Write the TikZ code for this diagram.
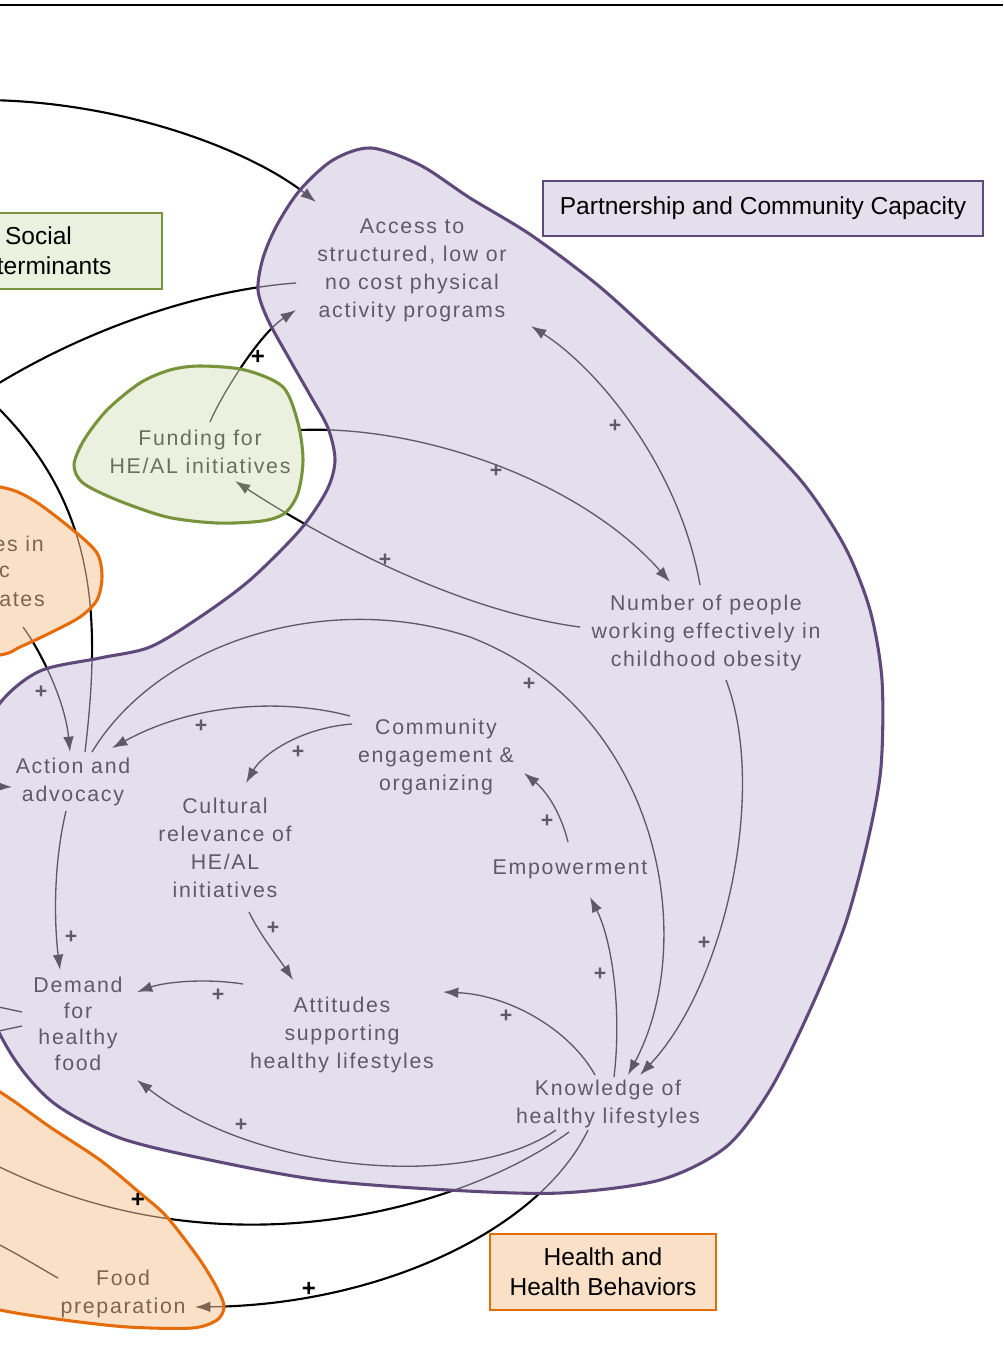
\documentclass[tikz,border=0pt]{standalone}
\usepackage{fontspec}
\setmainfont{Liberation Sans}
\newfontfamily\lblfam[LetterSpace=8]{Liberation Sans}
\usetikzlibrary{arrows.meta}
\definecolor{lavfill}{HTML}{E4DFEC}
\definecolor{lavline}{HTML}{5F497A}
\definecolor{lavink}{HTML}{5F5A68}
\definecolor{grnfill}{HTML}{EBF1DE}
\definecolor{grnline}{HTML}{77933C}
\definecolor{grnink}{HTML}{6A6E60}
\definecolor{orgfill}{HTML}{FBE0C8}
\definecolor{orgline}{HTML}{E46C0A}
\definecolor{orgink}{HTML}{7E6450}
\pgfdeclarelayer{lyBG}
\pgfdeclarelayer{lyA}
\pgfdeclarelayer{lyB}
\pgfdeclarelayer{lyC}
\pgfdeclarelayer{lyD}
\pgfsetlayers{lyBG,lyA,lyB,lyC,lyD,main}
\tikzset{
  lbl/.style={font=\lblfam\fontsize{16}{21}\selectfont, align=center, inner sep=0pt},
  plusg/.style={text=lavink, font=\bfseries\fontsize{16}{16}\selectfont, inner sep=0pt},
  plusb/.style={text=black, font=\bfseries\fontsize{18}{18}\selectfont, inner sep=0pt},
  arrw/.style={-{Latex[length=11.5pt,width=8pt]}},
  bbox/.style={line width=2.2pt, align=center, inner sep=0pt, text=black,
    font=\fontsize{18.4}{22.5}\selectfont},
  lavblob/.style={insert path={plot[smooth cycle, tension=0.5] coordinates {
    (371,148) (420,165) (470,198) (531,235) (600,287) (669,350) (740,417)
    (803,483) (845,547) (870,610) (882,680) (881,767) (868,840) (845,925)
    (810,1010) (770,1090) (726,1147) (660,1180) (560,1193) (448,1190)
    (320,1180) (210,1160) (120,1138) (55,1104) (15,1060) (-15,1000)
    (-40,900) (-30,760) (0,703) (40,671) (100,658) (150,647) (200,617)
    (250,580) (300,530) (327,490) (335,460) (328,428) (310,395) (290,360)
    (268,320) (258,290) (263,258) (277,225) (300,190) (333,160)}}},
  grnblob/.style={insert path={plot[smooth cycle, tension=0.5] coordinates {
    (200,366) (245,370) (283,387) (298,423) (303,460) (298,493) (285,513)
    (262,521) (217,523) (167,517) (117,500) (83,483) (74,465) (84,440)
    (107,410) (140,383) (170,370)}}},
  orgblobA/.style={insert path={plot[smooth cycle, tension=0.5] coordinates {
    (-80,480) (0,487) (33,500) (73,530) (97,553) (102,577) (97,600)
    (80,617) (50,633) (20,647) (0,655) (-80,665) (-150,570)}}},
  orgblobB/.style={insert path={plot[smooth cycle, tension=0.5] coordinates {
    (-60,1060) (0,1092) (50,1127) (100,1160) (140,1193) (167,1217) (200,1260)
    (218,1290) (224,1307) (217,1320) (192,1328) (128,1327) (64,1320)
    (0,1310) (-80,1290) (-150,1180)}}},
}
\newcommand\alledges{%
  \draw[conn,arrw] (w1) .. controls (120,100) and (250,150) .. ([shift={(-96,-68)}]acc.center);
  \draw[conn] ([shift={(-116,13)}]acc.center) .. controls (200,290) and (80,330) .. (w2);
  \draw[conn,arrw] ([shift={(10,-30)}]fund.center) .. controls (220,398) and (258,335) .. ([shift={(-116,40)}]acc.center);
  \draw[conn,arrw] ([shift={(100,-22)}]fund.center) .. controls (420,425) and (580,480) .. ([shift={(-36,-51)}]num.center);
  \draw[conn,arrw] ([shift={(-126,-6)}]num.center) .. controls (450,610) and (310,530) .. ([shift={(35,29)}]fund.center);
  \draw[conn,arrw] ([shift={(-6,-48)}]num.center) .. controls (680,470) and (600,370) .. ([shift={(119,56)}]acc.center);
  \draw[conn,arrw] ([shift={(20,47)}]num.center) .. controls (768,790) and (725,985) .. ([shift={(32,-29)}]kno.center);
  \draw[conn,arrw] ([shift={(19,-30)}]act.center) .. controls (160,640) and (330,590) .. (470,637) .. controls (660,710) and (700,940) .. ([shift={(20,-29)}]kno.center);
  \draw[conn,arrw] ([shift={(-86,-41)}]com.center) .. controls (290,700) and (200,700) .. ([shift={(39,-34)}]act.center);
  \draw[conn,arrw] ([shift={(-84,-33)}]com.center) .. controls (300,728) and (262,755) .. ([shift={(21,-65)}]cul.center);
  \draw[conn,arrw] ([shift={(-2,-27)}]emp.center) .. controls (560,810) and (545,790) .. ([shift={(88,16)}]com.center);
  \draw[conn,arrw] ([shift={(6,-27)}]kno.center) .. controls (622,1010) and (612,940) .. ([shift={(20,28)}]emp.center);
  \draw[conn,arrw] ([shift={(-13,-29)}]kno.center) .. controls (570,1030) and (510,995) .. ([shift={(101,-43)}]att.center);
  \draw[conn,arrw] ([shift={(24,64)}]cul.center) .. controls (260,935) and (280,960) .. ([shift={(-49,-55)}]att.center);
  \draw[conn,arrw] ([shift={(-99,-51)}]att.center) .. controls (205,978) and (165,982) .. ([shift={(59,-32)}]dem.center);
  \draw[conn,arrw] ([shift={(-7,29)}]act.center) .. controls (52,870) and (55,930) .. ([shift={(-18,-54)}]dem.center);
  \draw[conn,arrw] ([shift={(-52,26)}]kno.center) .. controls (470,1190) and (260,1175) .. ([shift={(59,56)}]dem.center);
  \draw[conn] ([shift={(-39,28)}]kno.center) .. controls (470,1205) and (220,1285) .. (w3);
  \draw[conn,arrw] ([shift={(-20,26)}]kno.center) .. controls (540,1230) and (380,1305) .. ([shift={(72,13)}]food.center);
  \draw[conn,arrw] ([shift={(-22,27)}]or3.east) .. controls (40,650) and (65,700) .. ([shift={(-3,-30)}]act.center);
  \draw[conn,arrw] (w4) -- ([shift={(-61,5)}]act.center);
  \draw[conn] ([shift={(12,-30)}]act.center) .. controls (102,610) and (95,500) .. (w5);
  \draw[conn] ([shift={(-56,-12)}]dem.center) -- (w6);
  \draw[conn] ([shift={(-56,2)}]dem.center) -- (w7);
  \draw[conn] ([shift={(-65,-16)}]food.center) .. controls (35,1265) and (15,1252) .. (w8);
}
\begin{document}
\begin{tikzpicture}[x=0.75pt,y=-0.75pt]
\useasboundingbox (0,0) rectangle (1003,1352);
\begin{pgfonlayer}{lyBG}
  \fill[white] (0,0) rectangle (1003,1352);
  \draw[line width=1.6pt] (0,5) -- (1003,5);
\end{pgfonlayer}

% variable nodes
\node[lbl, text=lavink] (acc) at (412,270) {Access to\\structured, low or\\no cost physical\\activity programs};
\node[lbl, text=grnink] (fund) at (200,452) {Funding for\\HE/AL initiatives};
\node[lbl, text=lavink] (num) at (706,633) {Number of people\\working effectively in\\childhood obesity};
\node[lbl, text=lavink] (act) at (73,782) {Action and\\advocacy};
\node[lbl, text=lavink] (com) at (436,757) {Community\\engagement \&\\organizing};
\node[lbl, text=lavink] (cul) at (225,848) {Cultural\\relevance of\\HE/AL\\initiatives};
\node[lbl, text=lavink] (emp) at (570,869) {Empowerment};
\node[lbl, text=lavink, font=\lblfam\fontsize{16}{19.5}\selectfont] (dem) at (78,1024) {Demand\\for\\healthy\\food};
\node[lbl, text=lavink] (att) at (342,1035) {Attitudes\\supporting\\healthy lifestyles};
\node[lbl, text=lavink] (kno) at (608,1104) {Knowledge of\\healthy lifestyles};
\node[lbl, text=orgink] (food) at (123,1294) {Food\\preparation};
\node[lbl, text=orgink, anchor=east] (or1) at (44,544) {es in};
\node[lbl, text=orgink, anchor=east] (or2) at (10,572) {c};
\node[lbl, text=orgink, anchor=east] (or3) at (45,600) {ates};

% off-canvas ends
\coordinate (w1) at (-20,100);
\coordinate (w2) at (-20,395);
\coordinate (w3) at (-20,1157);
\coordinate (w4) at (-20,786);
\coordinate (w5) at (-10,400);
\coordinate (w6) at (-20,1003);
\coordinate (w7) at (-20,1035);
\coordinate (w8) at (-20,1235);

% plus signs
\foreach \px/\py [count=\i] in {615/426,496/471,385/560,529/684,41/692,201/726,298/752,547/821,71/937,273/928,218/995,600/974,506/1016,704/943,241/1125}
  \node[plusg] (pg\i) at (\px,\py) {+};
\node[plusb] (pb1) at (258,357) {+};
\node[plusb] (pb2) at (309,1289) {+};
\node[plusb] (pb3) at (138,1200) {+};

% thick black connectors
\begin{pgfonlayer}{lyA}
  \tikzset{conn/.style={draw=black, line width=1.6pt}}
  \alledges
\end{pgfonlayer}

% blob fills
\begin{pgfonlayer}{lyB}
  \fill[lavfill, lavblob];
  \fill[grnfill, grnblob];
  \fill[orgfill, orgblobA];
  \fill[orgfill, orgblobB];
\end{pgfonlayer}

% thin tinted connectors inside blobs
\begin{pgfonlayer}{lyC}
  \begin{scope}
    \clip[lavblob];
    \tikzset{conn/.style={draw=lavink, line width=1pt}}
    \alledges
  \end{scope}
  \begin{scope}
    \clip[grnblob];
    \tikzset{conn/.style={draw=grnink, line width=1pt}}
    \alledges
  \end{scope}
  \begin{scope}
    \clip[orgblobA];
    \tikzset{conn/.style={draw=orgink, line width=1pt}}
    \alledges
  \end{scope}
  \begin{scope}
    \clip[orgblobB];
    \tikzset{conn/.style={draw=orgink, line width=1pt}}
    \alledges
  \end{scope}
\end{pgfonlayer}

% blob outlines
\begin{pgfonlayer}{lyD}
  \draw[lavline, line width=2.3pt, line join=round, lavblob];
  \draw[grnline, line width=2.3pt, line join=round, grnblob];
  \draw[orgline, line width=2.3pt, line join=round, orgblobA];
  \draw[orgline, line width=2.3pt, line join=round, orgblobB];
\end{pgfonlayer}

% boxed labels
\node[bbox, draw=lavline, fill=lavfill, minimum width=330pt, minimum height=41.25pt] (pcc) at (763,208.5) {Partnership and Community Capacity};
\node[bbox, draw=orgline, fill=orgfill, minimum width=169.5pt, minimum height=57pt] (hhb) at (603,1272) {Health and\\Health Behaviors};
\node[bbox, draw=grnline, fill=grnfill, minimum width=185.25pt, minimum height=57pt] (sdh) at (38.5,251) {Social\\Determinants};
\end{tikzpicture}
\end{document}
